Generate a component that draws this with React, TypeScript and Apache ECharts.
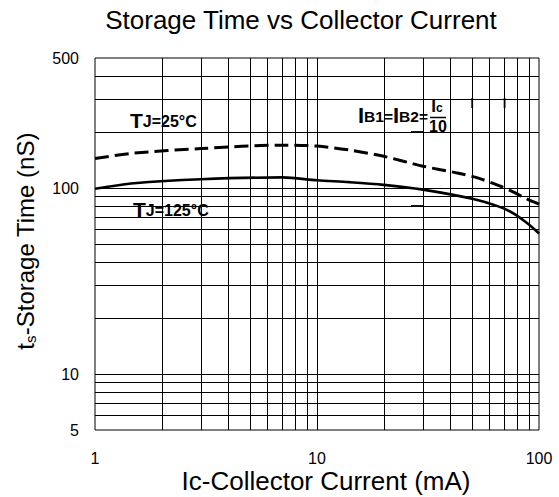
import { useEffect, useRef } from "react";
import * as echarts from "echarts";

// Collector current (mA) and storage time (nS)
const icTj25 = [1, 1.5, 3, 7, 10, 14, 20, 30, 42, 52, 66, 76, 88, 100];
const tsTj25 = [144, 154, 163, 170, 168, 160, 148, 131, 121, 114, 103, 95.6, 87.5, 82];

const icTj125 = [1, 1.5, 3, 7, 10, 14, 20, 30, 50, 66, 76, 88, 100];
const tsTj125 = [99, 106, 111.5, 114, 110, 107.5, 104, 98, 87.5, 79.4, 73.5, 65, 57];

// Log-grid lines
const xGridValues = [2, 3, 4, 5, 6, 7, 8, 9, 10, 20, 30, 40, 50, 60, 70, 80, 90];
const yGridValues = [6, 7, 8, 9, 10, 20, 30, 40, 50, 60, 70, 80, 90, 100, 200, 300, 400];

const xRange = [1, 100];
const yRange = [5, 500];

const FONT = 'Arial, "Liberation Sans", Helvetica, sans-serif';

const bigTok = (size: number) => ({
  fontSize: size,
  lineHeight: size,
  fontWeight: "bold",
  fontFamily: FONT,
  fill: "#000",
  verticalAlign: "bottom",
});
const smallTok = (size: number, lift: number) => ({
  fontSize: size,
  lineHeight: size,
  fontWeight: "bold",
  fontFamily: FONT,
  fill: "#000",
  verticalAlign: "bottom",
  padding: [0, 0, lift, 0],
});

export default function App() {
  const ref = useRef<HTMLDivElement>(null);

  useEffect(() => {
    const chart = echarts.init(ref.current!, null, { renderer: "svg" });
    chart.setOption({
      animation: false,
      backgroundColor: "#fff",
      grid: {
        left: 95,
        top: 58,
        width: 444,
        height: 372,
        show: true,
        borderColor: "#000",
        borderWidth: 1,
        backgroundColor: "transparent",
      },
      xAxis: {
        type: "log",
        logBase: 10,
        min: xRange[0],
        max: xRange[1],
        axisLine: { show: false },
        axisTick: { show: false },
        splitLine: { show: false },
        axisLabel: {
          margin: 20,
          fontSize: 16,
          color: "#000",
          fontFamily: FONT,
          formatter: (v: number) => String(Math.round(v)),
        },
      },
      yAxis: {
        type: "log",
        logBase: 10,
        min: yRange[0],
        max: yRange[1],
        axisLine: { show: false },
        axisTick: { show: false },
        splitLine: { show: false },
        axisLabel: {
          margin: 16,
          fontSize: 16,
          color: "#000",
          fontFamily: FONT,
          formatter: (v: number) => String(Math.round(v)),
        },
      },
      graphic: [
        {
          type: "text",
          x: 301,
          y: 19.5,
          style: {
            text: "Storage Time vs Collector Current",
            fontSize: 26,
            fontFamily: FONT,
            fill: "#000",
            align: "center",
            verticalAlign: "middle",
          },
        },
        {
          type: "text",
          x: 326,
          y: 481,
          style: {
            text: "Ic-Collector Current (mA)",
            fontSize: 26,
            fontFamily: FONT,
            fill: "#000",
            align: "center",
            verticalAlign: "middle",
          },
        },
        {
          type: "text",
          x: 25,
          y: 241,
          rotation: Math.PI / 2,
          style: {
            text: "{a|t}{b|s}{a|-Storage Time (nS)}",
            fill: "#000",
            align: "center",
            verticalAlign: "middle",
            rich: {
              a: { fontSize: 24, lineHeight: 26, fontFamily: FONT, fill: "#000" },
              b: { fontSize: 15, lineHeight: 15, fontFamily: FONT, fill: "#000", verticalAlign: "bottom" },
            },
          },
        },
        {
          type: "text",
          x: 130,
          y: 131,
          z: 10,
          style: {
            text: "{a|T}{b|J=25°C}",
            fill: "#000",
            align: "left",
            verticalAlign: "bottom",
            rich: { a: bigTok(21), b: smallTok(16, 2) },
          },
        },
        {
          type: "text",
          x: 133,
          y: 220,
          z: 10,
          style: {
            text: "{a|T}{b|J=125°C}",
            fill: "#000",
            align: "left",
            verticalAlign: "bottom",
            rich: { a: bigTok(21), b: smallTok(16, 2) },
          },
        },
        {
          type: "text",
          x: 358,
          y: 126,
          z: 10,
          style: {
            text: "{a|I}{b|B1=}{a|I}{b|B2=}",
            fill: "#000",
            align: "left",
            verticalAlign: "bottom",
            rich: { a: bigTok(22), b: smallTok(15.5, 2) },
          },
        },
        {
          type: "text",
          x: 437,
          y: 115,
          z: 10,
          style: {
            text: "{a|I}{b|c}",
            fill: "#000",
            align: "center",
            verticalAlign: "bottom",
            rich: { a: bigTok(17), b: smallTok(12, 1) },
          },
        },
        {
          type: "line",
          z: 10,
          shape: { x1: 430, y1: 117.5, x2: 446, y2: 117.5 },
          style: { stroke: "#000", lineWidth: 1.5 },
        },
        {
          type: "text",
          x: 438,
          y: 126,
          z: 10,
          style: {
            text: "10",
            fontSize: 16,
            fontWeight: "bold",
            fontFamily: FONT,
            fill: "#000",
            align: "center",
            verticalAlign: "middle",
          },
        },
        // small thickened gridline fragments present on the original sheet
        { type: "line", z: 10, shape: { x1: 411, y1: 132, x2: 423, y2: 132 }, style: { stroke: "#000", lineWidth: 1.8 } },
        { type: "line", z: 10, shape: { x1: 411, y1: 206, x2: 423, y2: 206 }, style: { stroke: "#000", lineWidth: 1.8 } },
        { type: "line", z: 10, shape: { x1: 472.2, y1: 98, x2: 472.2, y2: 108 }, style: { stroke: "#000", lineWidth: 1.8 } },
        { type: "line", z: 10, shape: { x1: 504.6, y1: 98, x2: 504.6, y2: 108 }, style: { stroke: "#000", lineWidth: 1.8 } },
      ],
      series: [
        {
          name: "grid",
          type: "line",
          data: [[xRange[0], yRange[0]]],
          showSymbol: false,
          silent: true,
          lineStyle: { opacity: 0 },
          z: 1,
          markLine: {
            silent: true,
            symbol: ["none", "none"],
            label: { show: false },
            emphasis: { disabled: true },
            lineStyle: { color: "#000", width: 1, type: "solid" },
            data: [
              ...xGridValues.map((v) => ({ xAxis: v })),
              ...yGridValues.map((v) => ({ yAxis: v })),
            ],
          },
        },
        {
          name: "TJ=25°C",
          type: "line",
          data: icTj25.map((x, i) => [x, tsTj25[i]]),
          showSymbol: false,
          smooth: 0.3,
          z: 3,
          lineStyle: { color: "#000", width: 3, type: [14, 6] },
        },
        {
          name: "TJ=125°C",
          type: "line",
          data: icTj125.map((x, i) => [x, tsTj125[i]]),
          showSymbol: false,
          smooth: 0.3,
          z: 3,
          lineStyle: { color: "#000", width: 2.6, type: "solid" },
        },
      ],
    });
    return () => chart.dispose();
  }, []);

  return (
    <div
      ref={ref}
      style={{ position: "fixed", left: 0, top: 0, width: 559, height: 497 }}
    />
  );
}
